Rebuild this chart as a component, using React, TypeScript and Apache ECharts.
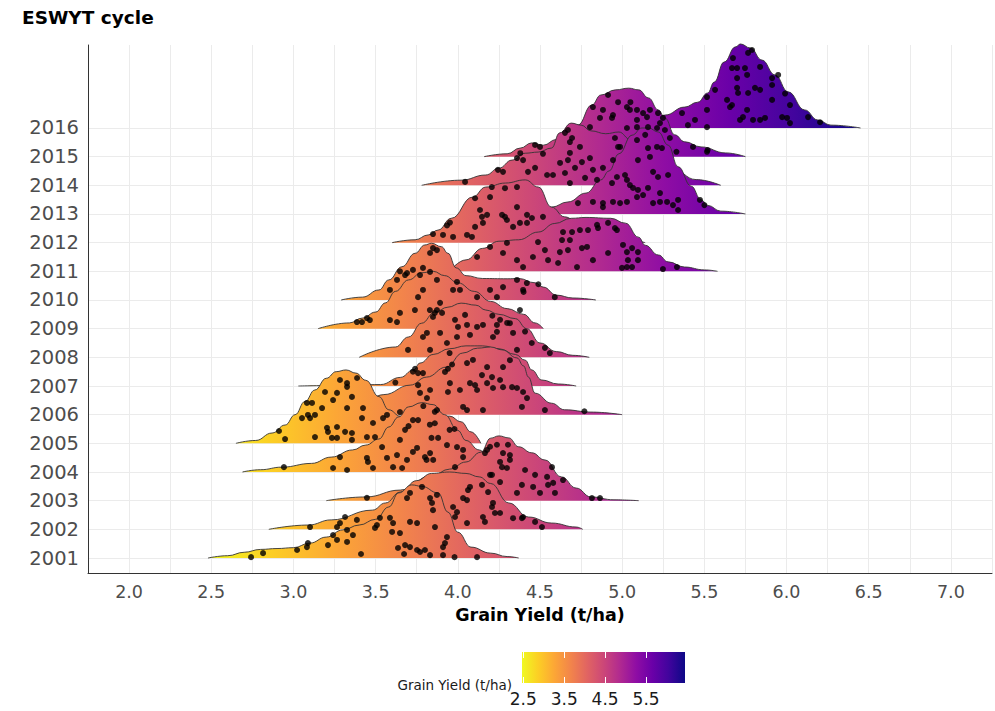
import React, { useEffect, useRef } from "react";
import * as echarts from "echarts";

// ---------------- data ----------------
const years = [2001, 2002, 2003, 2004, 2005, 2006, 2007, 2008, 2009, 2010, 2011, 2012, 2013, 2014, 2015, 2016];
const xTickLabels = [2.0, 2.5, 3.0, 3.5, 4.0, 4.5, 5.0, 5.5, 6.0, 6.5, 7.0];
const legendTicks = [2.5, 3.5, 4.5, 5.5];
const fillRange = [2.47, 6.45];
const plasmaStops = ["#f0f921", "#fcce25", "#fca636", "#f2844b", "#e16462", "#cc4778", "#b12a90", "#8f0da4", "#6a00a8", "#41049d", "#0d0887"];

// ridge outlines: [grain yield, density height in row units]
const ridge2001 = [[2.48,0],[2.6,0.08],[2.7,0.2],[2.8,0.3],[2.9,0.33],[3.0,0.36],[3.1,0.52],[3.2,0.73],[3.3,0.98],[3.4,1.15],[3.5,1.35],[3.58,1.78],[3.64,2.27],[3.72,2.55],[3.78,2.5],[3.88,2.27],[3.94,1.6],[4.0,0.9],[4.08,0.38],[4.2,0.17],[4.3,0.05],[4.37,0]];
const ridge2002 = [[2.85,0],[3.09,0.15],[3.23,0.33],[3.48,0.67],[3.56,0.92],[3.65,1.3],[3.75,1.7],[3.84,1.95],[3.95,2.0],[4.05,1.95],[4.13,1.83],[4.2,1.6],[4.31,0.92],[4.43,0.43],[4.57,0.22],[4.72,0.08],[4.76,0]];
const ridge2003 = [[3.2,0],[3.44,0.13],[3.65,0.37],[3.85,0.9],[3.95,1.1],[4.05,1.35],[4.14,1.69],[4.2,2.18],[4.25,2.26],[4.31,2.19],[4.37,1.88],[4.45,1.67],[4.53,1.42],[4.63,0.83],[4.72,0.44],[4.81,0.13],[4.95,0.03],[5.1,0]];
const ridge2004 = [[2.69,0],[2.8,0.08],[2.93,0.17],[3.11,0.3],[3.23,0.52],[3.36,0.77],[3.44,0.94],[3.52,1.15],[3.58,1.57],[3.64,1.92],[3.7,2.27],[3.78,2.42],[3.85,2.35],[3.92,2.0],[4.0,1.45],[4.05,1.1],[4.13,0.77],[4.2,0.35],[4.3,0.12],[4.45,0.03],[4.55,0]];
const ridge2005 = [[2.65,0],[2.77,0.1],[2.87,0.36],[2.95,0.64],[3.01,1.0],[3.07,1.46],[3.13,1.86],[3.2,2.27],[3.26,2.5],[3.32,2.56],[3.38,2.45],[3.44,2.2],[3.52,1.63],[3.58,1.17],[3.65,0.95],[3.75,0.85],[3.85,0.9],[3.95,0.95],[4.02,0.75],[4.08,0.4],[4.14,0]];
const ridge2006 = [[3.25,0],[3.4,0.3],[3.55,0.7],[3.71,1.03],[3.81,1.31],[3.93,1.66],[4.03,2.15],[4.12,2.32],[4.2,2.36],[4.27,2.26],[4.36,1.98],[4.4,1.7],[4.43,1.31],[4.47,0.75],[4.57,0.4],[4.65,0.17],[4.81,0.09],[5.0,0]];
const ridge2007 = [[3.03,0],[3.3,0.02],[3.53,0.05],[3.65,0.3],[3.73,0.56],[3.77,0.8],[3.85,1.1],[3.95,1.3],[4.05,1.4],[4.15,1.4],[4.25,1.3],[4.35,1.1],[4.41,0.9],[4.45,0.56],[4.51,0.21],[4.61,0.07],[4.72,0]];
const ridge2008 = [[3.4,0],[3.62,0.36],[3.7,0.71],[3.78,1.19],[3.86,1.58],[3.94,1.75],[4.02,1.89],[4.11,1.82],[4.17,1.65],[4.25,1.5],[4.35,1.35],[4.42,1.0],[4.5,0.5],[4.6,0.2],[4.7,0.07],[4.8,0]];
const ridge2009 = [[3.15,0],[3.34,0.2],[3.42,0.37],[3.5,0.58],[3.56,0.9],[3.62,1.3],[3.7,1.7],[3.78,1.95],[3.85,2.0],[3.92,1.85],[4.0,1.6],[4.1,1.3],[4.2,0.95],[4.3,0.7],[4.4,0.5],[4.47,0.2],[4.52,0]];
const ridge2010 = [[3.29,0],[3.42,0.1],[3.52,0.35],[3.58,0.7],[3.66,1.16],[3.74,1.63],[3.8,1.92],[3.84,1.98],[3.9,1.86],[3.94,1.63],[3.99,1.12],[4.05,0.85],[4.15,0.75],[4.3,0.74],[4.37,0.75],[4.47,0.6],[4.52,0.45],[4.6,0.17],[4.7,0.07],[4.84,0]];
const ridge2011 = [[3.95,0],[4.05,0.4],[4.15,0.8],[4.25,1.05],[4.37,1.1],[4.49,1.37],[4.59,1.67],[4.69,1.85],[4.78,1.88],[4.93,1.85],[5.02,1.68],[5.1,1.19],[5.14,0.91],[5.22,0.57],[5.28,0.33],[5.38,0.15],[5.5,0.05],[5.58,0]];
const ridge2012 = [[3.6,0],[3.74,0.1],[3.82,0.27],[3.88,0.44],[3.96,0.85],[4.09,1.59],[4.17,1.94],[4.29,2.08],[4.41,2.19],[4.49,1.94],[4.57,1.24],[4.65,0.9],[4.75,0.6],[4.9,0.3],[5.0,0.12],[5.14,0]];
const ridge2013 = [[4.35,0],[4.5,0.12],[4.57,0.24],[4.67,0.42],[4.78,0.73],[4.87,1.19],[4.92,1.5],[4.98,2.1],[5.06,2.75],[5.12,3.0],[5.16,3.0],[5.22,2.86],[5.28,2.4],[5.34,1.65],[5.42,0.97],[5.48,0.5],[5.52,0.3],[5.6,0.1],[5.75,0]];
const ridge2014 = [[3.78,0],[4.02,0.18],[4.17,0.36],[4.25,0.6],[4.33,0.88],[4.41,1.12],[4.49,1.16],[4.57,1.3],[4.62,1.83],[4.69,2.17],[4.75,2.1],[4.81,1.9],[4.9,1.8],[4.98,1.86],[5.05,1.6],[5.15,1.2],[5.3,0.6],[5.45,0.2],[5.6,0]];
const ridge2015 = [[4.16,0],[4.3,0.1],[4.38,0.3],[4.45,0.48],[4.52,0.4],[4.6,0.6],[4.73,1.1],[4.815,1.8],[4.87,2.15],[4.96,2.33],[5.04,2.39],[5.1,2.33],[5.16,2.05],[5.22,1.63],[5.26,1.35],[5.32,0.76],[5.38,0.52],[5.48,0.34],[5.63,0.13],[5.75,0]];
const ridge2016 = [[4.95,0],[5.1,0.15],[5.2,0.35],[5.26,0.45],[5.38,0.73],[5.46,0.9],[5.52,1.22],[5.56,1.6],[5.62,2.3],[5.69,2.83],[5.72,2.93],[5.78,2.79],[5.85,2.37],[5.93,1.85],[6.01,1.26],[6.11,0.63],[6.19,0.28],[6.27,0.1],[6.45,0]];

// jittered trial points: [grain yield, vertical jitter in row units]
const dots2001 = [[2.742,0.03],[2.815,0.17],[3.022,0.28],[3.082,0.38],[3.088,0.52],[3.21,0.45],[3.241,0.8],[3.265,0.63],[3.326,0.56],[3.411,0.14],[3.508,1.15],[3.496,1.05],[3.6,0.91],[3.648,0.87],[3.636,0.35],[3.679,0.45],[3.709,0.38],[3.752,0.28],[3.8,0.28],[3.831,0.1],[3.91,0.1],[3.922,0.52],[4.117,0.03],[3.673,0.14],[3.77,0.21],[3.709,2.27],[3.782,2.48],[3.831,2.09],[3.849,1.67],[3.691,2.09],[3.873,2.2],[3.843,1.92],[3.91,0.38],[3.934,0.73],[3.861,1.08],[3.752,1.22],[3.709,1.26],[3.606,1.22],[3.587,1.4],[3.526,1.4],[3.326,0.98],[3.362,0.8],[3.98,0.03]];
const dots2002 = [[3.386,0.33],[3.283,0.22],[3.101,0.08],[3.314,0.43],[3.265,0.08],[4.032,1.09],[3.971,0.78],[3.995,0.6],[4.153,0.43],[4.165,0.26],[4.226,0.57],[4.257,0.57],[4.336,0.39],[4.39,0.39],[4.062,1.37],[4.147,1.55],[3.983,0.43],[4.056,0.22],[4.397,0.43],[4.47,0.26],[4.512,0.08],[4.074,1.48],[4.056,1.02],[4.208,0.78],[4.214,0.92],[4.184,1.3]];
const dots2003 = [[3.447,0.1],[4.178,1.77],[4.196,1.88],[4.238,1.95],[4.275,1.66],[4.305,1.95],[4.317,1.42],[4.269,1.17],[4.208,0.9],[4.257,0.65],[4.36,0.27],[4.409,1.07],[4.47,0.9],[4.543,0.83],[4.549,0.55],[4.58,0.62],[4.573,1.17],[4.64,0.72],[4.591,0.27],[4.5,0.27],[4.458,0.48],[4.816,0.09],[4.865,0.09],[4.39,0.55],[4.299,1.14],[4.257,1.35],[4.317,1.59],[4.165,1.66],[4.196,0.9]];
const dots2004 = [[2.942,0.17],[3.241,0.14],[3.326,0.07],[3.283,0.52],[3.447,0.49],[3.453,0.35],[3.484,0.14],[3.569,0.49],[3.606,0.17],[3.661,0.14],[3.63,0.59],[3.539,0.87],[3.648,1.12],[3.679,1.47],[3.727,1.81],[3.758,1.81],[3.752,0.84],[3.8,0.52],[3.727,0.7],[3.691,0.42],[3.831,0.66],[3.934,0.94],[3.995,0.87],[4.032,0.77],[4.032,0.52],[3.983,0.17],[3.81,0.42],[3.85,0.42],[3.88,1.19],[3.84,1.19],[3.95,1.47],[3.79,2.3],[3.86,2.1],[3.83,1.65]];
const dots2005 = [[3.283,2.21],[3.326,2.1],[3.387,2.28],[3.192,1.79],[3.265,1.76],[3.326,1.97],[3.241,1.51],[3.356,1.62],[3.082,1.41],[3.113,1.41],[3.174,1.23],[3.052,0.88],[3.088,0.99],[3.101,0.88],[3.131,0.99],[3.326,1.23],[3.423,1.23],[3.417,0.88],[3.484,0.71],[3.545,0.88],[3.569,0.99],[2.912,0.43],[2.949,0.15],[3.131,0.22],[3.204,0.54],[3.21,0.4],[3.265,0.57],[3.265,0.19],[3.234,0.19],[3.314,0.4],[3.356,0.36],[3.356,0.12],[3.447,0.22],[3.496,0.22],[3.7,0.6],[3.86,0.7],[3.98,0.5]];
const dots2006 = [[3.922,1.49],[3.965,1.75],[4.074,1.1],[4.105,1.03],[4.178,1.1],[4.214,0.93],[4.275,0.96],[4.33,0.96],[4.36,0.93],[4.397,0.79],[4.257,1.21],[4.208,1.31],[4.147,1.38],[4.013,0.86],[4.032,0.27],[4.056,0.16],[4.153,0.16],[4.117,0.86],[3.94,0.79],[3.831,0.86],[3.812,0.58],[3.77,0.76],[3.648,0.09],[3.873,0.16],[4.421,0.58],[4.39,0.27],[4.53,0.16],[4.77,0.12],[3.94,1.6],[4.317,1.9],[4.275,1.66],[4.092,1.91],[4.056,1.8],[4.178,1.66],[3.758,1.03],[3.952,1.1]];
const dots2007 = [[3.727,0.5],[3.758,0.45],[3.788,0.45],[3.74,0.6],[3.62,0.12]];
const dots2008 = [[3.697,0.26],[3.831,0.26],[3.934,0.5],[3.995,0.71],[4.001,1.06],[4.044,1.48],[4.056,1.13],[3.983,1.31],[4.117,1.06],[4.153,1.13],[4.074,0.78],[4.238,1.13],[4.238,0.89],[4.257,1.31],[4.214,0.71],[4.336,0.85],[4.317,1.19],[4.409,0.9],[4.53,0.33],[3.95,0.15],[4.36,0.26],[3.812,0.85],[3.788,0.71],[3.892,0.85],[4.45,0.5],[4.56,0.15]];
const dots2009 = [[3.447,0.37],[3.417,0.23],[3.587,0.3],[3.63,0.23],[3.648,0.55],[3.739,0.65],[3.892,0.9],[3.873,0.65],[3.904,0.55],[3.849,0.41],[4.378,0.65],[3.386,0.23],[3.465,0.3],[3.86,0.55],[3.83,0.65],[4.3,0.2],[4.21,0.45]];
const dots2010 = [[3.648,1.0],[3.691,0.94],[3.77,0.87],[3.788,1.12],[3.679,0.87],[3.873,0.7],[3.788,0.35],[3.995,0.63],[4.013,0.35],[3.971,0.35],[3.831,1.64],[3.849,1.81],[3.873,1.74],[3.831,0.98],[3.727,1.05],[3.63,0.7],[4.42,0.59],[4.49,0.55],[4.4,0.28],[4.59,0.1],[4.117,0.1],[4.196,0.35],[4.275,0.45],[4.238,0.1],[4.36,0.7],[4.397,0.35],[3.758,0.1],[3.587,0.35]];
const dots2011 = [[4.64,1.37],[4.695,1.37],[4.743,1.44],[4.792,1.44],[4.847,1.62],[4.853,1.51],[4.956,1.51],[4.968,1.44],[4.914,1.69],[4.682,1.09],[4.755,0.81],[4.786,0.85],[4.67,0.74],[4.621,0.67],[4.53,0.74],[4.488,1.02],[4.457,0.5],[4.549,0.39],[4.61,0.29],[4.725,0.15],[4.822,0.39],[4.914,0.64],[5.005,0.92],[5.029,0.67],[5.06,0.81],[5.096,0.67],[5.035,0.39],[5.096,0.39],[4.999,0.12],[5.029,0.15],[5.06,0.15],[5.248,0.08],[5.333,0.15],[4.634,1.09],[4.117,0.5],[4.196,0.85],[4.275,0.64],[4.36,0.39],[4.397,0.15],[4.299,0.99]];
const dots2012 = [[4.207,1.94],[4.287,1.9],[4.36,1.94],[4.135,1.14],[4.147,0.9],[4.178,0.97],[4.269,0.97],[4.287,0.9],[4.36,1.24],[4.421,0.97],[4.451,0.86],[4.518,0.9],[4.378,0.69],[4.336,0.55],[4.105,1.55],[4.196,1.59],[4.105,0.55],[3.952,0.7],[3.934,0.6],[3.91,0.27],[3.971,0.2],[4.056,0.27],[4.086,0.2],[4.153,0.69],[4.299,0.79],[4.421,0.69],[3.849,0.3]];
const dots2013 = [[5.09,2.58],[5.212,2.34],[5.242,2.3],[5.157,2.3],[5.096,1.88],[5.169,1.99],[5.279,1.36],[5.188,1.47],[5.218,1.29],[5.047,1.01],[5.066,0.91],[5.157,0.91],[5.09,0.59],[5.127,0.66],[5.188,0.38],[5.23,0.42],[5.273,0.42],[5.309,0.31],[5.34,0.14],[5.34,0.49],[5.23,0.73],[4.987,0.38],[4.944,0.42],[5.029,0.42],[4.883,0.38],[4.822,0.42],[4.938,1.08],[5.017,1.36],[5.096,0.84],[5.473,0.49],[5.5,0.31],[4.883,0.24],[4.731,0.38]];
const dots2014 = [[4.36,0.95],[4.397,0.88],[4.427,0.47],[4.47,0.61],[4.543,0.36],[4.579,0.36],[4.652,0.43],[4.713,0.61],[4.755,0.81],[4.67,0.88],[4.682,1.13],[4.682,1.51],[4.695,1.65],[4.652,1.83],[4.67,1.93],[4.743,1.34],[4.804,0.95],[4.774,0.26],[4.847,0.19],[4.883,0.61],[4.944,0.88],[4.987,1.34],[4.956,1.65],[4.968,0.29],[5.029,0.19],[4.822,0.54],[4.518,1.1],[4.622,0.78],[4.244,0.54],[4.275,0.47],[4.044,0.12],[4.682,0.08]];
const dots2015 = [[4.914,2.15],[4.975,1.9],[4.822,1.73],[4.883,1.63],[4.944,1.45],[5.029,1.73],[5.047,1.63],[5.09,1.63],[5.127,1.52],[5.151,1.38],[5.169,1.63],[5.218,1.52],[4.865,1.35],[4.938,1.35],[5.09,1.28],[5.09,1.03],[5.157,1.03],[5.212,1.0],[5.248,1.35],[5.029,1.0],[5.26,0.93],[5.431,0.34],[5.516,0.17],[4.975,0.34],[4.804,1.03],[5.05,1.9],[5.23,1.17],[5.29,0.65],[5.14,0.76],[5.33,0.17],[5.52,0.23],[4.47,0.41],[4.5,0.34],[4.38,0.12]];
const dots2016 = [[5.674,2.44],[5.668,2.09],[5.699,2.09],[5.747,2.09],[5.766,2.62],[5.79,2.72],[5.699,1.74],[5.76,1.85],[5.839,2.13],[5.912,1.74],[5.912,1.5],[5.699,1.4],[5.705,1.22],[5.766,1.22],[5.808,1.4],[5.839,1.33],[5.991,1.2],[5.565,1.33],[5.516,1.08],[5.638,0.98],[5.656,0.73],[5.76,0.63],[5.735,0.38],[5.717,0.28],[5.796,0.28],[5.839,0.28],[5.869,0.35],[5.973,0.38],[6.003,0.35],[6.021,0.17],[6.021,0.8],[6.131,0.38],[6.204,0.2],[5.443,0.28],[5.516,0.63],[5.516,0.03],[5.4,0.1],[5.364,0.52],[5.668,0.8],[5.912,0.98],[5.949,1.85]];

const ridges = [ridge2001, ridge2002, ridge2003, ridge2004, ridge2005, ridge2006, ridge2007, ridge2008, ridge2009, ridge2010, ridge2011, ridge2012, ridge2013, ridge2014, ridge2015, ridge2016];
const dots = [dots2001, dots2002, dots2003, dots2004, dots2005, dots2006, dots2007, dots2008, dots2009, dots2010, dots2011, dots2012, dots2013, dots2014, dots2015, dots2016];

// ---------------- layout / style ----------------
const FONT = "'DejaVu Sans', 'Liberation Sans', sans-serif";
const LEGEND = { left: 522, top: 652, width: 163, height: 31 };

function plasma(x0: number, x1: number, global: boolean) {
  return new echarts.graphic.LinearGradient(
    x0, 0, x1, 0,
    plasmaStops.map((c, i) => ({ offset: i / (plasmaStops.length - 1), color: c })),
    global
  );
}

function legendX(v: number) {
  return LEGEND.left + ((v - fillRange[0]) / (fillRange[1] - fillRange[0])) * LEGEND.width;
}

function buildOption() {
  const ridgeSeries = years.map((yr, i) => ({
    type: "line",
    id: "ridge" + yr,
    data: ridges[i].map(([x, h]) => [x, yr + h]),
    smooth: 0.45,
    smoothMonotone: "x",
    showSymbol: false,
    symbol: "none",
    silent: true,
    clip: false,
    z: 30 - i,
    lineStyle: { color: "#333333", width: 0.9 },
    areaStyle: { origin: yr, color: "#f0f921", opacity: 1 },
  }));
  const dotData: number[][] = [];
  years.forEach((yr, i) => dots[i].forEach(([x, o]) => dotData.push([x, yr + o])));

  const legendGraphics: any[] = [
    {
      type: "rect",
      shape: { x: LEGEND.left, y: LEGEND.top, width: LEGEND.width, height: LEGEND.height },
      style: { fill: plasma(0, 1, false) },
      silent: true,
    },
    {
      type: "text",
      x: 512,
      y: 685,
      style: { text: "Grain Yield (t/ha)", fontFamily: FONT, fontSize: 13.5, fill: "#1a1a1a", align: "right", verticalAlign: "middle" },
      silent: true,
    },
  ];
  legendTicks.forEach((v) => {
    const x = Math.round(legendX(v)) + 0.5;
    legendGraphics.push(
      { type: "line", shape: { x1: x, y1: LEGEND.top, x2: x, y2: LEGEND.top + 6 }, style: { stroke: "#ffffff", lineWidth: 1 }, silent: true },
      { type: "line", shape: { x1: x, y1: LEGEND.top + LEGEND.height - 6, x2: x, y2: LEGEND.top + LEGEND.height }, style: { stroke: "#ffffff", lineWidth: 1 }, silent: true },
      {
        type: "text",
        x: legendX(v),
        y: 699,
        style: { text: v.toFixed(1), fontFamily: FONT, fontSize: 17, fill: "#1a1a1a", align: "center", verticalAlign: "middle" },
        silent: true,
      }
    );
  });

  return {
    animation: false,
    backgroundColor: "#ffffff",
    title: {
      text: "ESWYT cycle",
      left: 22,
      top: 8,
      padding: 0,
      textStyle: { fontFamily: FONT, fontWeight: "bold", fontSize: 18.5, color: "#000000" },
    },
    grid: { left: 88, top: 45, right: 3, bottom: 138, containLabel: false, outerBoundsMode: "none" },
    xAxis: {
      type: "value",
      min: 1.75,
      max: 7.25,
      interval: 0.25,
      name: "Grain Yield (t/ha)",
      nameLocation: "middle",
      nameGap: 33,
      nameTextStyle: { fontFamily: FONT, fontWeight: "bold", fontSize: 17.5, color: "#000000" },
      axisLine: { show: true, lineStyle: { color: "#333333", width: 1 } },
      axisTick: { show: false },
      axisLabel: {
        customValues: xTickLabels,
        formatter: (v: number) => v.toFixed(1),
        color: "#4d4d4d",
        fontFamily: FONT,
        fontSize: 17.5,
        margin: 10,
      },
      splitLine: { show: true, lineStyle: { color: "#ebebeb", width: 1 } },
    },
    yAxis: {
      type: "value",
      min: 2000.477,
      max: 2018.895,
      axisLine: { show: true, lineStyle: { color: "#333333", width: 1 } },
      axisTick: { show: false, customValues: years },
      axisLabel: {
        customValues: years,
        formatter: (v: number) => String(Math.round(v)),
        color: "#4d4d4d",
        fontFamily: FONT,
        fontSize: 19.5,
        margin: 9,
      },
      splitLine: { show: true, lineStyle: { color: "#ebebeb", width: 1 } },
    },
    series: [
      ...ridgeSeries,
      {
        type: "scatter",
        id: "points",
        data: dotData,
        symbolSize: 6,
        itemStyle: { color: "#000000" },
        silent: true,
        z: 60,
      },
    ],
    graphic: legendGraphics,
  };
}

export default function App() {
  const ref = useRef<HTMLDivElement>(null);
  useEffect(() => {
    if (!ref.current) return;
    const chart = echarts.init(ref.current, null, { renderer: "svg" });
    chart.setOption(buildOption() as any);
    const p0 = chart.convertToPixel({ xAxisIndex: 0 } as any, fillRange[0]) as number;
    const p1 = chart.convertToPixel({ xAxisIndex: 0 } as any, fillRange[1]) as number;
    chart.setOption({
      series: years.map((yr) => ({ id: "ridge" + yr, areaStyle: { color: plasma(p0, p1, true) } })),
    } as any);
    return () => chart.dispose();
  }, []);
  return <div ref={ref} style={{ position: "fixed", left: 0, top: 0, width: 995, height: 711 }} />;
}
